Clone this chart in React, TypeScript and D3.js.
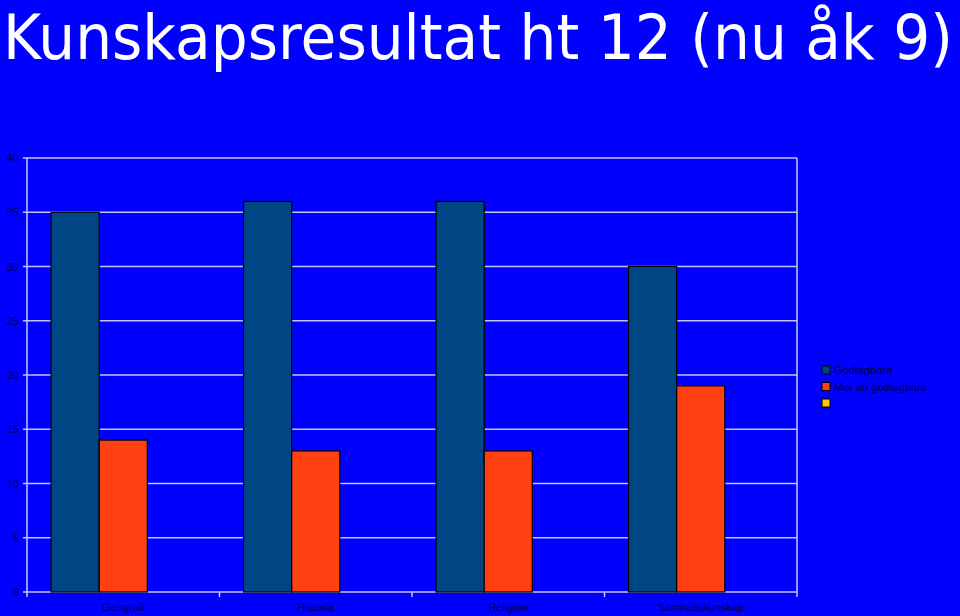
import React from "react";
import * as d3 from "d3";

const title = "Kunskapsresultat ht 12 (nu åk 9)";
const categories = ["Geografi", "Historia", "Religion", "Samhällskunskap"];
const seriesNames = ["Godtagbara", "Mer än godtagbara", ""];
const godtagbara = [35, 36, 36, 30];
const merAn = [14, 13, 13, 19];
const third: (number | null)[] = [null, null, null, null];
const yTicks = [0, 5, 10, 15, 20, 25, 30, 35, 40];

const colors = ["#004685", "#ff4010", "#ffcc00"];
const grid = "#c4c4ff";
const textDark = "#000040";

// measure the title so it can be squeezed to the page width with a transform
function measure(text: string, font: string) {
  const ctx = document.createElement("canvas").getContext("2d");
  if (!ctx) return 1000;
  ctx.font = font;
  return ctx.measureText(text).width;
}

export default function App() {
  const width = 960;
  const height = 616;
  const left = 27;
  const right = 797;
  const top = 158;
  const bottom = 592;

  const titleSize = 62;
  const titleW = measure(title, `${titleSize}px "DejaVu Sans"`);
  const sx = Math.min(1, 950 / titleW);

  const x = d3.scaleBand<string>().domain(categories).range([left, right]);
  const inner = d3
    .scaleBand<number>()
    .domain([0, 1, 2])
    .range([0, x.bandwidth()])
    .paddingOuter(0.5)
    .paddingInner(0);
  const y = d3.scaleLinear().domain([0, 40]).range([bottom, top]);

  const series = [godtagbara, merAn, third];

  return (
    <svg
      width={width}
      height={height}
      style={{ position: "absolute", left: 0, top: 0, background: "#0000ff" }}
    >
      <rect x={0} y={0} width={width} height={height} fill="#0000ff" />
      <text
        transform={`translate(3,59) scale(${sx},1)`}
        fill="#ffffff"
        fontFamily="DejaVu Sans, Verdana, sans-serif"
        fontSize={titleSize}
      >
        {title}
      </text>

      {/* gridlines */}
      {yTicks.map((t) => (
        <g key={t}>
          <line x1={left} x2={right} y1={y(t)} y2={y(t)} stroke={grid} strokeWidth={1.5} />
          <line x1={left - 4} x2={left} y1={y(t)} y2={y(t)} stroke={grid} strokeWidth={1.5} />
          <text
            x={19}
            y={y(t) + 4}
            textAnchor="end"
            fill={textDark}
            fontFamily="Liberation Sans, Arial, sans-serif"
            fontSize={11}
          >
            {t}
          </text>
        </g>
      ))}
      <line x1={left} x2={left} y1={top} y2={bottom} stroke={grid} strokeWidth={1.5} />
      <line x1={right} x2={right} y1={top} y2={bottom} stroke={grid} strokeWidth={1.5} />

      {/* x ticks */}
      {[...categories.map((c) => x(c) as number), right].map((p, i) => (
        <line key={i} x1={p} x2={p} y1={bottom} y2={bottom + 5} stroke={grid} strokeWidth={1.5} />
      ))}

      {/* bars */}
      {series.map((vals, si) =>
        vals.map((v, ci) =>
          v == null ? null : (
            <rect
              key={`${si}-${ci}`}
              x={(x(categories[ci]) as number) + (inner(si) as number)}
              y={y(v)}
              width={inner.bandwidth()}
              height={bottom - y(v)}
              fill={colors[si]}
              stroke="#000000"
              strokeWidth={1.2}
            />
          )
        )
      )}

      {categories.map((c) => (
        <text
          key={c}
          x={(x(c) as number) + x.bandwidth() / 2}
          y={611}
          textAnchor="middle"
          fill={textDark}
          fontFamily="Liberation Sans, Arial, sans-serif"
          fontSize={11}
        >
          {c}
        </text>
      ))}

      {/* legend */}
      {seriesNames.map((n, i) => (
        <g key={i} transform={`translate(822,${366 + i * 16.5})`}>
          <rect x={0} y={0} width={8} height={8} fill={colors[i]} stroke="#000000" strokeWidth={1} />
          <text
            x={12}
            y={8}
            fill={textDark}
            fontFamily="Liberation Sans, Arial, sans-serif"
            fontSize={11}
          >
            {n}
          </text>
        </g>
      ))}
    </svg>
  );
}
